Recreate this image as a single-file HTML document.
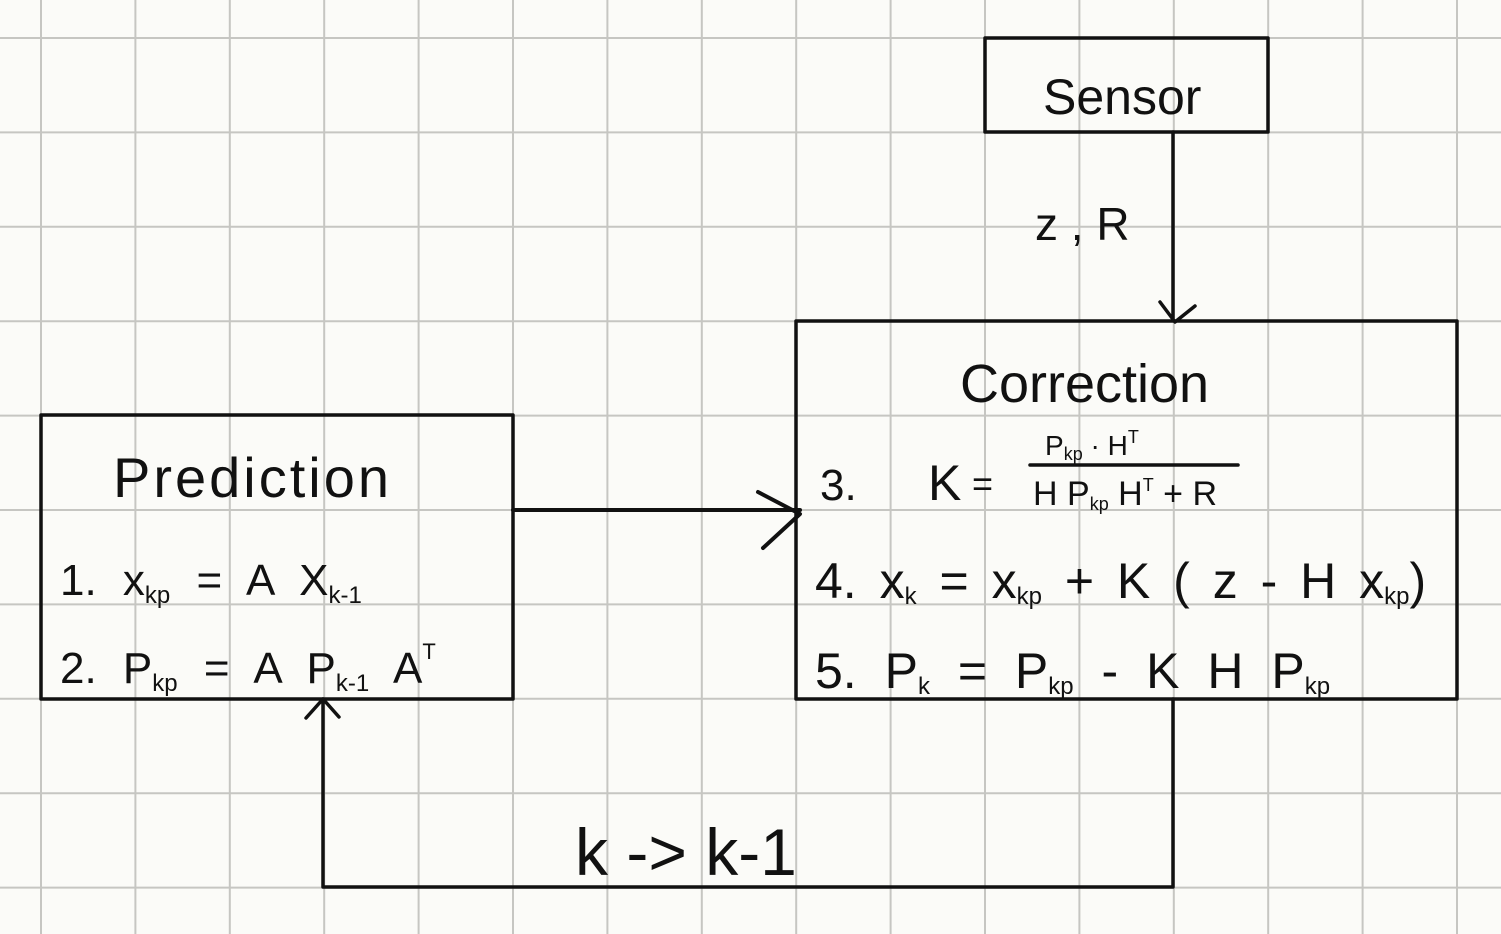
<!DOCTYPE html>
<html><head><meta charset="utf-8"><style>
html,body{margin:0;padding:0;background:#fbfbf8;}
svg{display:block;}
text{font-family:"Liberation Sans Narrow","Liberation Sans",sans-serif;fill:#111;}
</style></head><body>
<svg width="1501" height="934" viewBox="0 0 1501 934">
<rect width="1501" height="934" fill="#fbfbf8"/>
<g id="grid" stroke="#c6c6c2" stroke-width="2"></g>
<g stroke="#111" stroke-width="3.5" fill="none" stroke-linecap="round" stroke-linejoin="round">
<rect x="985" y="38" width="283" height="94"/>
<rect x="796" y="321" width="661" height="378"/>
<rect x="41" y="415" width="472" height="284"/>
<path d="M1173 132 L1173 320 M1160 302 L1175 322 L1195 306"/>
<path d="M513 510 L800 510 M758 492 L800 514 L763 548" stroke-width="4"/>
<path d="M1173 699 L1173 887 L323 887 L323 701 M306 718 L323 699 L339 717"/>
<path d="M1030 465 L1238 465"/>
</g>
<text x="1043" y="114" font-size="50">Sensor</text>
<text x="1035" y="240" font-size="46">z , R</text>
<text x="960" y="402" font-size="54">Correction</text>
<text x="113" y="497" font-size="56" letter-spacing="3">Prediction</text>
<g word-spacing="14">
<text x="60" y="595" font-size="44">1.  x<tspan font-size="24" dy="8">kp</tspan><tspan dy="-8"> =  A  X</tspan><tspan font-size="24" dy="8">k-1</tspan></text>
<text x="60" y="683" font-size="44">2. P<tspan font-size="24" dy="8">kp</tspan><tspan dy="-8"> =  A  P</tspan><tspan font-size="24" dy="8">k-1</tspan><tspan dy="-8"> A</tspan><tspan font-size="22" dy="-24">T</tspan></text>
</g>
<g>
<text x="820" y="500" font-size="44">3.</text>
<text x="928" y="500" font-size="50">K</text>
<text x="972" y="496" font-size="36">=</text>
<text x="1045" y="455" font-size="28">P<tspan font-size="18" dy="5">kp</tspan><tspan dy="-5"> · H</tspan><tspan font-size="18" dy="-12">T</tspan></text>
<text x="1033" y="505" font-size="34">H P<tspan font-size="18" dy="5">kp</tspan><tspan dy="-5"> H</tspan><tspan font-size="18" dy="-14">T</tspan><tspan dy="14"> + R</tspan></text>
<text x="815" y="598" font-size="50" word-spacing="9">4.  x<tspan font-size="24" dy="6">k</tspan><tspan dy="-6">  = x</tspan><tspan font-size="24" dy="6">kp</tspan><tspan dy="-6"> + K ( z - H x</tspan><tspan font-size="24" dy="6">kp</tspan><tspan dy="-6">)</tspan></text>
<text x="815" y="688" font-size="50" word-spacing="14">5.  P<tspan font-size="24" dy="6">k</tspan><tspan dy="-6">  = P</tspan><tspan font-size="24" dy="6">kp</tspan><tspan dy="-6"> - K H P</tspan><tspan font-size="24" dy="6">kp</tspan></text>
</g>
<text x="575" y="875" font-size="66">k -&gt; k-1</text>
<script>
const g=document.getElementById('grid');
for(let x=41-94.4;x<1501;x+=94.4){const l=document.createElementNS('http://www.w3.org/2000/svg','line');


l.setAttribute('x1',x);l.setAttribute('x2',x);l.setAttribute('y1',0);l.setAttribute('y2',934);g.appendChild(l);}
for(let y=38;y<934;y+=94.4){const l=document.createElementNS('http://www.w3.org/2000/svg','line');


l.setAttribute('y1',y);l.setAttribute('y2',y);l.setAttribute('x1',0);l.setAttribute('x2',1501);g.appendChild(l);}
</script>
</svg>
</body></html>
